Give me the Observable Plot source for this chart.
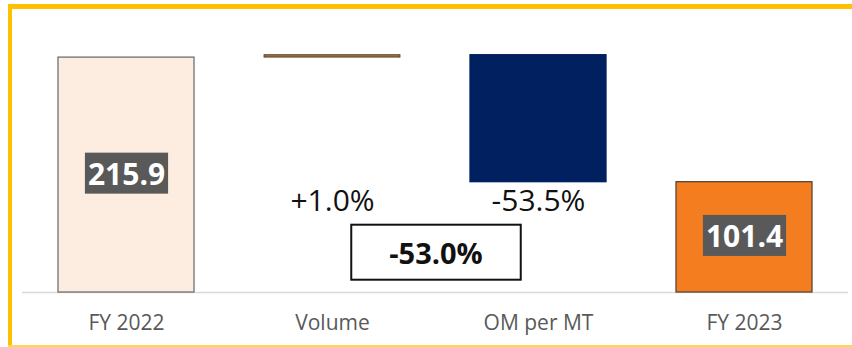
<!DOCTYPE html>
<html>
<head>
<meta charset="utf-8">
<script src="https://cdn.jsdelivr.net/npm/d3@7"></script>
<script src="https://cdn.jsdelivr.net/npm/@observablehq/plot@0.6"></script>
<style>
  html, body { margin: 0; padding: 0; background: #fff; }
  #wrap { position: relative; width: 852px; height: 347px; overflow: hidden; background: #fff; }
  #chart { position: absolute; left: 0; top: 0; }
  .b { position: absolute; }
</style>
</head>
<body>
<div id="wrap">
  <div id="chart"></div>
  <div class="b" style="left:8px;top:4px;width:844px;height:5px;background:#ffc000"></div>
  <div class="b" style="left:8px;top:4px;width:4px;height:343px;background:#ffc000"></div>
  <div class="b" style="left:8px;top:345px;width:844px;height:2px;background:#ffd84a"></div>
</div>
<script>
// ---- data ----
const categories = ["FY 2022", "Volume", "OM per MT", "FY 2023"];
const barStart = [0, 215.9, 218.1, 0];
const barEnd = [215.9, 218.1, 101.4, 101.4];
const totalCats = ["FY 2022", "FY 2023"];
const totalValues = [215.9, 101.4];
const changeCats = ["Volume", "OM per MT"];
const changeLabels = ["+1.0%", "-53.5%"];
const totalChangeLabel = "-53.0%";

// ---- styles ----
const fillColors = ["#fdede1", "#a0703c", "#002060", "#f47d20"];
const strokeColors = ["#707070", "#4a3420", "#002060", "#5a4636"];

const bars = categories.map((c, i) => ({cat: c, y1: barStart[i], y2: barEnd[i]}));
const totals = totalCats.map((c, i) => ({cat: c, v: totalValues[i]}));
const changes = changeCats.map((c, i) => ({cat: c, label: changeLabels[i]}));
const changeY = 84;
const totalY = 35;

const font = "'Open Sans', 'Liberation Sans', sans-serif";

const plot = Plot.plot({
  width: 852,
  height: 347,
  marginLeft: 22,
  marginRight: 4,
  marginTop: 20,
  marginBottom: 55,
  style: {fontFamily: font, background: "transparent", overflow: "visible"},
  x: {domain: categories, paddingInner: 0.3375, paddingOuter: 0.166, label: null},
  y: {domain: [0, 250], axis: null},
  color: {domain: categories, range: fillColors},
  marks: [
    Plot.ruleY([0], {stroke: "#d9d9d9", strokeWidth: 1.5}),
    Plot.barY(bars, {x: "cat", y1: "y1", y2: "y2", fill: "cat",
      stroke: (d) => strokeColors[categories.indexOf(d.cat)],
      strokeWidth: (d) => d.cat === "Volume" ? 0.8 : 1.3}),
    Plot.text(totals, {x: "cat", y: (d) => d.v / 2, text: (d) => d.v.toFixed(1),
      fill: "white", fontWeight: "bold", fontSize: 30, lineAnchor: "middle"}),
    Plot.text(changes, {x: "cat", y: () => changeY, text: "label",
      fill: "#111", fontSize: 30, lineAnchor: "middle"}),
    Plot.text([totalChangeLabel], {x: () => "Volume", y: () => totalY, dx: 103.5, text: (d) => d,
      fill: "#111", fontWeight: "bold", fontSize: 29, lineAnchor: "middle"}),
    Plot.axisX({tickSize: 0, tickPadding: 23, fontSize: 21, color: "#595959", label: null})
  ]
});
document.getElementById("chart").appendChild(plot);

// background boxes behind labels
const svgNS = "http://www.w3.org/2000/svg";
const valueTexts = new Set(totalValues.map((v) => v.toFixed(1)));
function addBox(node, padX, padY, fill, stroke) {
  const b = node.getBBox();
  const r = document.createElementNS(svgNS, "rect");
  r.setAttribute("x", b.x - padX);
  r.setAttribute("y", b.y - padY);
  r.setAttribute("width", b.width + 2 * padX);
  r.setAttribute("height", b.height + 2 * padY);
  r.setAttribute("fill", fill);
  if (stroke) { r.setAttribute("stroke", stroke); r.setAttribute("stroke-width", 2); }
  const t = node.getAttribute("transform");
  if (t) r.setAttribute("transform", t);
  node.parentNode.insertBefore(r, node);
}
d3.select(plot).selectAll("text").each(function() {
  const s = this.textContent.trim();
  if (valueTexts.has(s)) addBox(this, 3, 0, "#595959");
  else if (s === totalChangeLabel) addBox(this, 38, 8, "white", "#111");
});
</script>
</body>
</html>
